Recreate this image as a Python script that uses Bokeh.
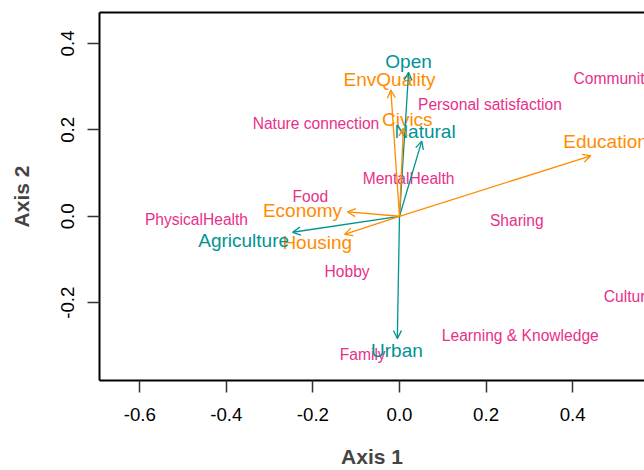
from bokeh.plotting import figure
from bokeh.models import (ColumnDataSource, Arrow, OpenHead, LinearAxis, FixedTicker, Range1d)
from bokeh.core.properties import value
from bokeh.embed import file_html
from bokeh.resources import INLINE

# ---- data ----
vec_names = ["Open", "EnvQuality", "Civics", "Natural", "Education",
             "Economy", "Housing", "Agriculture", "Urban"]
vec_x = [0.021, -0.020, 0.009, 0.0515, 0.442, -0.120, -0.127, -0.247, -0.005]
vec_y = [0.333, 0.292, 0.204, 0.174, 0.140, 0.010, -0.042, -0.037, -0.283]
vec_group = ["teal", "orange", "orange", "teal", "orange",
             "orange", "orange", "teal", "teal"]
vec_lab_x = [0.021, -0.023, 0.018, 0.059, 0.476, -0.224, -0.190, -0.360, -0.006]
vec_lab_y = [0.357, 0.316, 0.224, 0.197, 0.172, 0.014, -0.060, -0.056, -0.310]

pt_names = ["Community", "Personal satisfaction", "Nature connection", "MentalHealth",
            "Food", "PhysicalHealth", "Sharing", "Hobby", "Culture",
            "Learning & Knowledge", "Family"]
pt_x = [0.493, 0.209, -0.193, 0.021, -0.206, -0.469, 0.271, -0.121, 0.530, 0.279, -0.085]
pt_y = [0.319, 0.259, 0.215, 0.087, 0.046, -0.008, -0.009, -0.127, -0.185, -0.275, -0.319]

x_ticks = [-0.6, -0.4, -0.2, 0.0, 0.2, 0.4]
x_tick_labels = ["-0.6", "-0.4", "-0.2", "0.0", "0.2", "0.4"]
y_ticks = [-0.2, 0.0, 0.2, 0.4]
y_tick_labels = ["-0.2", "0.0", "0.2", "0.4"]
x_title = "Axis 1"
y_title = "Axis 2"

colors = {"teal": "#009393", "orange": "#FF8C00"}
pink = "#E8308A"
FONT = "Liberation Sans"

p = figure(width=644, height=470, output_backend="svg", toolbar_location=None,
           x_range=Range1d(-0.693, 0.566), y_range=Range1d(-0.380, 0.4715),
           x_axis_location=None, y_axis_location=None,
           min_border_left=99, min_border_right=0, min_border_top=12, min_border_bottom=90)
p.grid.visible = False
p.outline_line_color = None
p.background_fill_color = "white"

def style_axis(ax, ticks, labels):
    ax.ticker = FixedTicker(ticks=ticks)
    ax.major_label_overrides = {t: l for t, l in zip(ticks, labels)}
    ax.axis_line_color = "black"
    ax.axis_line_width = 2
    ax.major_tick_line_color = "#333333"
    ax.major_tick_line_width = 1.5
    ax.major_tick_out = 12
    ax.major_tick_in = 0
    ax.minor_tick_line_color = None
    ax.major_label_text_font = FONT
    ax.major_label_text_font_size = "18.7px"
    ax.major_label_text_color = "black"
    ax.axis_label_text_font = FONT
    ax.axis_label_text_font_style = "bold"
    ax.axis_label_text_font_size = "21px"
    ax.axis_label_text_color = "#444444"

xaxis = LinearAxis(axis_label=x_title)
style_axis(xaxis, x_ticks, x_tick_labels)
xaxis.major_label_standoff = 15
xaxis.axis_label_standoff = 21
p.add_layout(xaxis, "below")

yaxis = LinearAxis(axis_label=y_title)
style_axis(yaxis, y_ticks, y_tick_labels)
yaxis.major_label_orientation = "vertical"
yaxis.major_label_standoff = 13
yaxis.axis_label_standoff = 26
p.add_layout(yaxis, "left")

top = LinearAxis(ticker=FixedTicker(ticks=[]))
top.axis_line_color = "black"
top.axis_line_width = 2
top.major_tick_line_color = None
top.minor_tick_line_color = None
top.major_label_text_font_size = "0px"
top.major_label_standoff = 0
p.add_layout(top, "above")

# arrows
for g in ["teal", "orange"]:
    idx = [i for i, gg in enumerate(vec_group) if gg == g]
    src = ColumnDataSource(dict(
        x0=[0.0] * len(idx), y0=[0.0] * len(idx),
        x1=[vec_x[i] for i in idx], y1=[vec_y[i] for i in idx]))
    p.add_layout(Arrow(end=OpenHead(size=8, line_color=colors[g], line_width=1.3),
                       x_start="x0", y_start="y0", x_end="x1", y_end="y1",
                       line_color=colors[g], line_width=1.3, source=src))

# point labels
psrc = ColumnDataSource(dict(x=pt_x, y=pt_y, t=pt_names))
p.text(x="x", y="y", text="t", source=psrc, text_align="center", text_baseline="middle",
       text_font=value(FONT), text_font_size="15.6px", text_color=pink)

# vector labels
vsrc = ColumnDataSource(dict(x=vec_lab_x, y=vec_lab_y, t=vec_names,
                             c=[colors[g] for g in vec_group]))
p.text(x="x", y="y", text="t", source=vsrc, text_align="center", text_baseline="middle",
       text_font=value(FONT), text_font_size="19px", text_color="c")

open("out.html", "w").write(file_html(p, INLINE))
